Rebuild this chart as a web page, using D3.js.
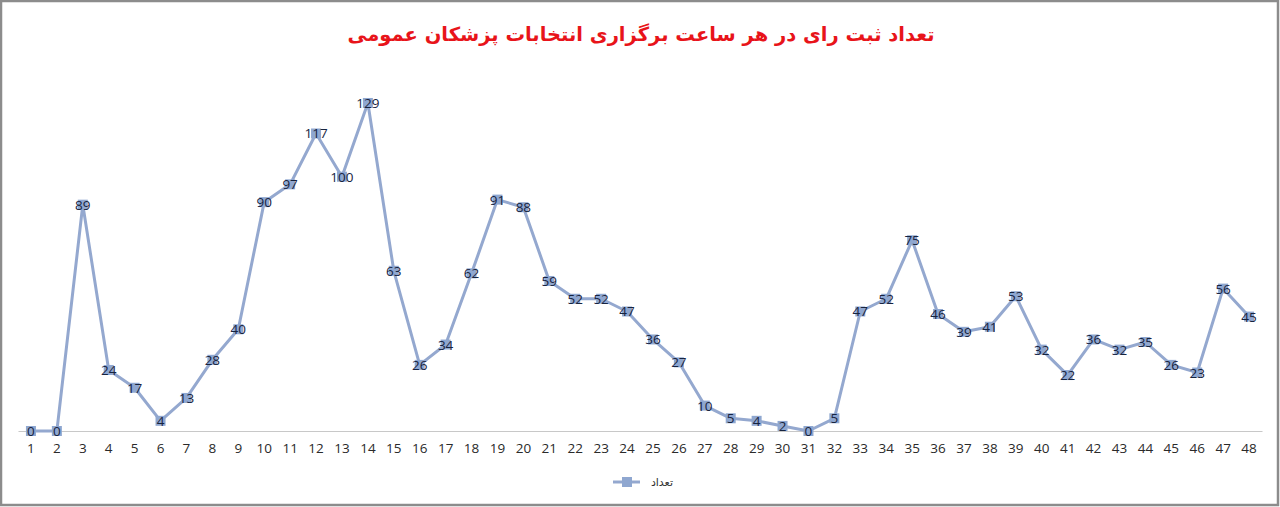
<!DOCTYPE html>
<html><head><meta charset="utf-8">
<script src="https://cdn.jsdelivr.net/npm/d3@7"></script>
<style>html,body{margin:0;padding:0;background:#fff;}svg{display:block;}</style>
</head><body>
<svg id="c" width="1280" height="507"></svg>
<script>
const title = "تعداد ثبت رای در هر ساعت برگزاری انتخابات پزشکان عمومی";
const seriesName = "تعداد";
const categories = d3.range(1, 49).map(String);
const values = [0,0,89,24,17,4,13,28,40,90,97,117,100,129,63,26,34,62,91,88,59,52,52,47,36,27,10,5,4,2,0,5,47,52,75,46,39,41,53,32,22,36,32,35,26,23,56,45];

const W = 1280, H = 507;
const svg = d3.select("#c");
svg.append("rect").attr("x",1).attr("y",1).attr("width",W-3).attr("height",H-3)
  .attr("fill","#fff").attr("stroke","#8c8c8c").attr("stroke-width",2.5);

const x = d3.scaleBand().domain(categories).range([18, 1262]);
const y = d3.scaleLinear().domain([0, 140]).range([431, 75]);
const cx = d => x(d) + x.bandwidth()/2;

svg.append("text").attr("x", 641).attr("y", 41).attr("text-anchor","middle")
  .attr("direction","rtl")
  .attr("font-family","DejaVu Sans").attr("font-weight","bold").attr("font-size",19.5)
  .attr("fill","#e8141a").text(title);

const xAxis = d3.axisBottom(x).tickSize(0).tickPadding(12);
const gx = svg.append("g").attr("transform",`translate(0,${y(0)})`).call(xAxis);
gx.select(".domain").attr("stroke","#c8c8c8").attr("stroke-width",1.2);
gx.selectAll("text").attr("font-family","Open Sans, Liberation Sans, sans-serif").attr("font-size",13.5).attr("fill","#2a2a2a");

const line = d3.line().x((d,i)=>cx(categories[i])).y(d=>y(d));
svg.append("path").datum(values).attr("d",line).attr("fill","none")
  .attr("stroke","#94a8cf").attr("stroke-width",3).attr("stroke-linejoin","round");

svg.selectAll(".m").data(values).enter().append("rect")
  .attr("x",(d,i)=>cx(categories[i])-5).attr("y",d=>y(d)-5)
  .attr("width",10).attr("height",10).attr("fill","#8fa7d0");

svg.selectAll(".lab").data(values).enter().append("text")
  .attr("x",(d,i)=>cx(categories[i])).attr("y",d=>y(d)+5)
  .attr("text-anchor","middle")
  .attr("font-family","Open Sans, Liberation Sans, sans-serif").attr("font-size",13.5)
  .attr("fill","#17243f").text(d=>d);

// legend
const lg = svg.append("g");
lg.append("line").attr("x1",613).attr("x2",640).attr("y1",482).attr("y2",482)
  .attr("stroke","#94a8cf").attr("stroke-width",3);
lg.append("rect").attr("x",622).attr("y",477).attr("width",10).attr("height",10).attr("fill","#8fa7d0");
lg.append("text").attr("x",673).attr("y",486).attr("text-anchor","end")
  .attr("font-family","DejaVu Sans").attr("font-size",11).attr("fill","#333").text(seriesName);
</script>
</body></html>
